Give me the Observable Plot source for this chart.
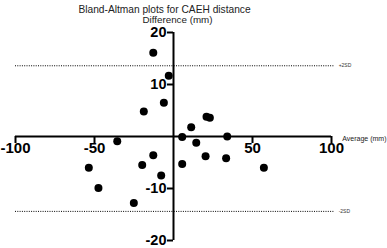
<!DOCTYPE html>
<html><head><meta charset="utf-8">
<script src="https://cdn.jsdelivr.net/npm/d3@7"></script>
<script src="https://cdn.jsdelivr.net/npm/@observablehq/plot@0.6"></script>
<style>body{margin:0;background:#fff}</style>
</head><body><div id="chart"></div>
<script>
const average = [-12.8, -3, -6.1, -18.8, 11.2, 20.9, 23, 5.5, 34, -35.6, 14.4, -53.6, -12.8, -19.8, 5.5, 20.3, 33.3, 57.2, -7.8, -47.5, -25.1];
const difference = [16.1, 11.7, 6.5, 4.8, 1.8, 3.8, 3.6, -0.1, 0, -0.9, -1.2, -6.0, -3.6, -5.5, -5.3, -3.8, -4.2, -6.0, -7.5, -9.9, -12.8];
const xTicks = [-100, -50, 50, 100];
const yTicks = [20, 10, -10, -20];
const sdLines = [13.6, -14.4];
const sdLabels = ["+2SD", "-2SD"];
const title = "Bland-Altman plots for CAEH distance";
const yTitle = "Difference (mm)";
const xTitle = "Average (mm)";

const points = average.map((a, i) => ({a, d: difference[i]}));
const sd = sdLines.map((v, i) => ({v, label: sdLabels[i]}));
const font = "Liberation Sans, Arial, sans-serif";

const chart = Plot.plot({
  width: 387, height: 248,
  marginLeft: 15, marginRight: 56, marginTop: 32, marginBottom: 8,
  x: {domain: [-100, 100], axis: null},
  y: {domain: [-20, 20], axis: null},
  style: {background: "#fff", fontFamily: font},
  marks: [
    Plot.ruleY(sd, {y: "v", x1: -100, x2: 102, stroke: "#000", strokeWidth: 1, strokeDasharray: "1,1.3"}),
    Plot.text(sd, {y: "v", x: 102, text: "label", textAnchor: "start", dx: 4, fontSize: 5, fill: "#333"}),
    Plot.ruleY([0], {x1: -100, x2: 100, stroke: "#000", strokeWidth: 2}),
    Plot.ruleX([0], {y1: -20, y2: 20, stroke: "#000", strokeWidth: 2}),
    Plot.ruleX(xTicks, {x: d => d, y1: 0, y2: 0, insetBottom: -7, stroke: "#000", strokeWidth: 2}),
    Plot.ruleY(yTicks, {y: d => d, x1: 0, x2: 0, insetLeft: -6, stroke: "#000", strokeWidth: 2}),
    Plot.text(xTicks, {x: d => d, y: 0, text: d => String(d), dy: 12, fontSize: 15, fontWeight: "bold", fill: "#000"}),
    Plot.text(yTicks, {y: d => d, x: 0, text: d => String(d), dx: -7, textAnchor: "end", fontSize: 14.5, fontWeight: "bold", fill: "#000"}),
    Plot.dot(points, {x: "a", y: "d", r: 4, fill: "#000", stroke: "none"}),
    Plot.text([xTitle], {frameAnchor: "right", dx: 55, dy: 2, textAnchor: "end", fontSize: 7, fill: "#222"}),
    Plot.text([title], {frameAnchor: "top", dx: -9, dy: -27, fontSize: 10.2, fill: "#222"}),
    Plot.text([yTitle], {frameAnchor: "top", dx: 4, dy: -16.5, fontSize: 9.8, fill: "#222"})
  ]
});
document.getElementById("chart").appendChild(chart);
</script></body></html>
